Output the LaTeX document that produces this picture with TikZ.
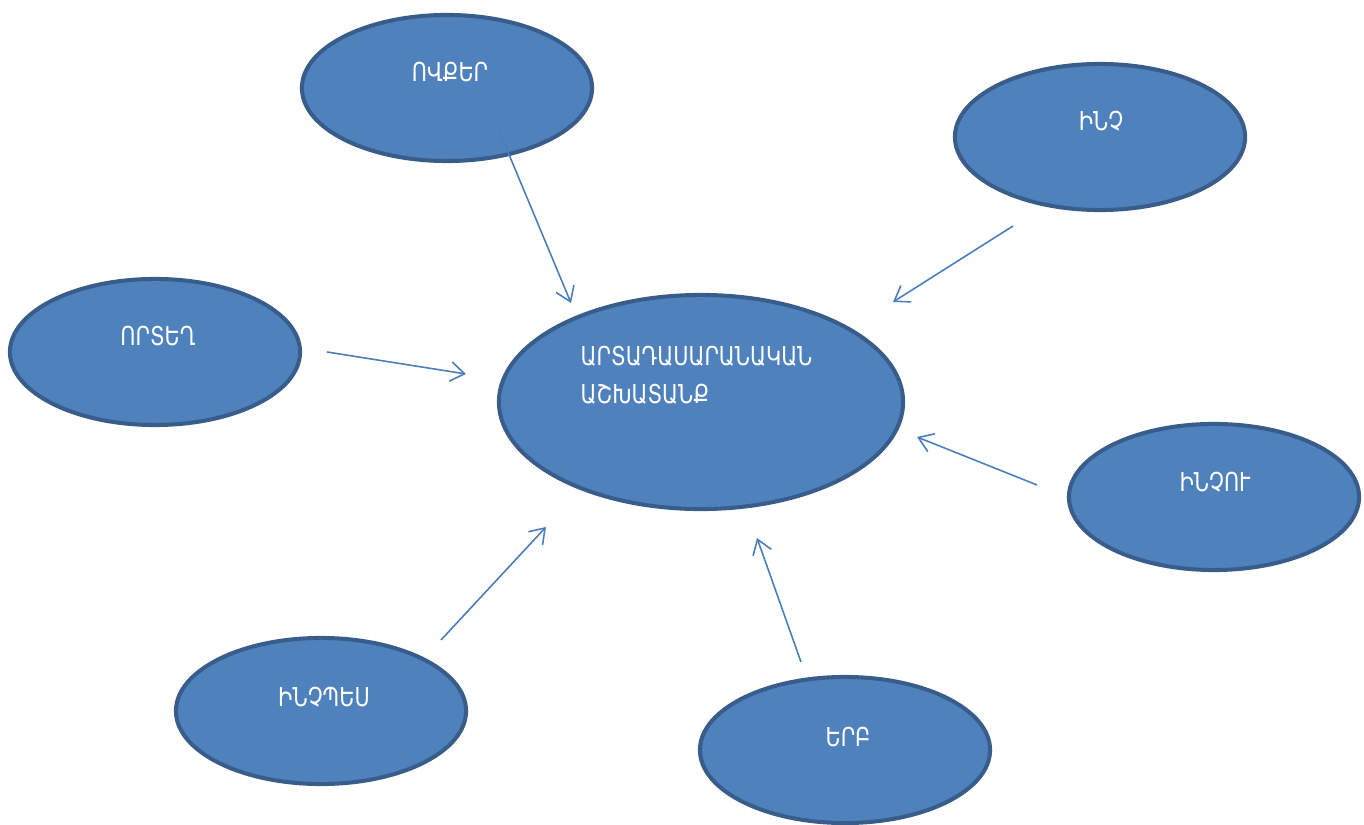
\documentclass[tikz,border=0pt]{standalone}
\usepackage{fontspec}
\setmainfont{DejaVu Sans}[FakeStretch=0.80]
\usetikzlibrary{shapes.geometric,arrows.meta}
\definecolor{bfill}{HTML}{4F81BD}
\definecolor{bline}{HTML}{385D8A}
\definecolor{arr}{HTML}{4A7EBB}
\tikzset{
  bub/.style={ellipse, fill=bfill, draw=bline, line width=1.15pt,
    minimum width=2.90cm, minimum height=1.46cm, inner sep=0pt},
  bigbub/.style={bub, minimum width=4.04cm, minimum height=2.14cm},
  lab/.style={text=white, font=\fontsize{7.4}{10.5}\selectfont, inner sep=0pt, anchor=base},
  conn/.style={draw=arr, line width=0.45pt, -{Straight Barb[length=4pt,width=5.5pt]}}
}
\begin{document}
\begin{tikzpicture}[x=0.01cm,y=-0.01cm]
\useasboundingbox (0,0) rectangle (1364,825);
% bubbles
\node[bub] (who)   at (447,88)  {};
\node[bub] (what)  at (1100,137) {};
\node[bub] (where) at (155,352) {};
\node[bigbub] (core) at (701,402) {};
\node[bub] (why)   at (1214,497) {};
\node[bub] (how)   at (321,711) {};
\node[bub] (when)  at (845,750) {};
% labels
\node[lab] (twho)   at (450,82)   {ՈՎՔԵՐ};
\node[lab] (twhat)  at (1101,131) {ԻՆՉ};
\node[lab] (twhere) at (158,346)  {ՈՐՏԵՂ};
\node[lab] (twhy)   at (1215,492) {ԻՆՉՈՒ};
\node[lab] (thow)   at (324,706)  {ԻՆՉՊԵՍ};
\node[lab] (twhen)  at (848,746)  {ԵՐԲ};
\node[lab, anchor=base west] (tcore1) at (580,366) {ԱՐՏԱԴԱՍԱՐԱՆԱԿԱՆ};
\node[lab, anchor=base west] (tcore2) at (580,404) {ԱՇԽԱՏԱՆՔ};
% connector ends
\coordinate (s1) at (500,133);  \coordinate (e1) at (571,303);
\coordinate (s2) at (1013,226); \coordinate (e2) at (893,302);
\coordinate (s3) at (327,352);  \coordinate (e3) at (466,374);
\coordinate (s4) at (1037,485); \coordinate (e4) at (917,437);
\coordinate (s5) at (801,662);  \coordinate (e5) at (757,538);
\coordinate (s6) at (441,640);  \coordinate (e6) at (546,527);
\draw[conn] (s1) -- (e1);
\draw[conn] (s2) -- (e2);
\draw[conn] (s3) -- (e3);
\draw[conn] (s4) -- (e4);
\draw[conn] (s5) -- (e5);
\draw[conn] (s6) -- (e6);
\end{tikzpicture}
\end{document}
